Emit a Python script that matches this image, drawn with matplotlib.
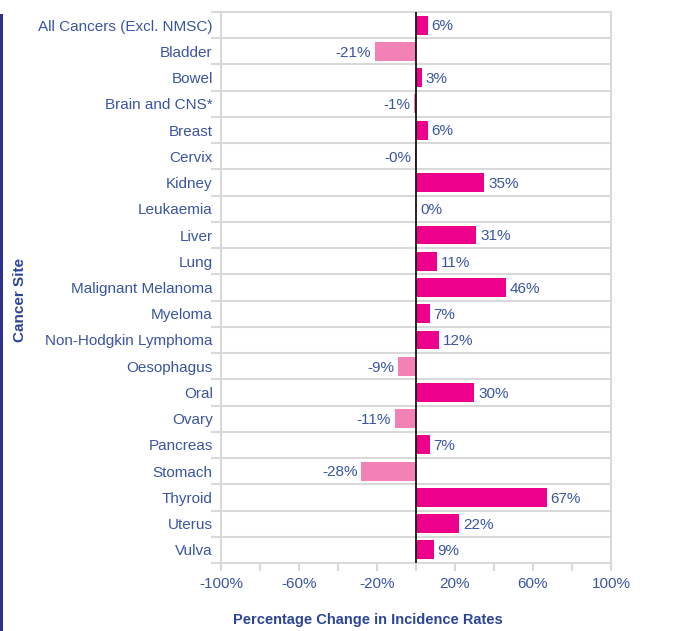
import matplotlib
matplotlib.use("Agg")
import matplotlib.pyplot as plt
from matplotlib.ticker import MultipleLocator, FixedLocator
import numpy as np

categories = ["All Cancers (Excl. NMSC)", "Bladder", "Bowel", "Brain and CNS*", "Breast",
              "Cervix", "Kidney", "Leukaemia", "Liver", "Lung", "Malignant Melanoma",
              "Myeloma", "Non-Hodgkin Lymphoma", "Oesophagus", "Oral", "Ovary",
              "Pancreas", "Stomach", "Thyroid", "Uterus", "Vulva"]
values = [6, -21, 3, -1, 6, -0.3, 35, 0, 31, 11, 46, 7, 12, -9, 30, -11, 7, -28, 67, 22, 9]
xticks = [-100, -60, -20, 20, 60, 100]

pos_color = "#ec008c"
neg_color = "#f282b6"
text_color = "#3a55a4"
title_color = "#2b4596"
grid_color = "#d9d9d9"

plt.rcParams['font.family'] = ['Liberation Sans', 'DejaVu Sans']

fig = plt.figure(figsize=(6.76, 6.31), dpi=100)
ax = fig.add_axes([221/676, 1-563/631, (611-221)/676, (563-12)/631])

n = len(categories)
y = np.arange(n)
colors = [pos_color if v >= 0 else neg_color for v in values]
ax.barh(y, values, height=0.72, color=colors, zorder=3)

ax.set_ylim(n - 0.5, -0.5)
ax.set_xlim(-100, 100)

# category separators
for b in np.arange(n - 1) + 0.5:
    ax.axhline(b, color=grid_color, lw=1.5, zorder=1)
ax.axvline(0, color="black", lw=1.2, zorder=4)

for yi, v in zip(y, values):
    lab = f"{v:.0f}%"
    if v >= 0:
        ax.text(v + 2, yi + 0.05, lab, ha="left", va="center", color=text_color, fontsize=11,
                zorder=5, bbox=dict(facecolor="white", edgecolor="none", pad=1.5))
    else:
        ax.text(v - 2, yi + 0.05, lab, ha="right", va="center", color=text_color, fontsize=11,
                zorder=5, bbox=dict(facecolor="white", edgecolor="none", pad=1.5))

ax.set_yticks(y)
ax.set_yticklabels(categories, color=text_color, fontsize=11)
ax.yaxis.set_minor_locator(FixedLocator(np.arange(-1, n) + 0.5))
ax.tick_params(axis="y", which="major", length=0, pad=6)
ax.tick_params(axis="y", which="minor", length=7, width=1.5, color=grid_color)

ax.set_xticks(xticks)
ax.set_xticklabels([f"{t}%" for t in xticks], color=text_color, fontsize=11)
ax.xaxis.set_minor_locator(MultipleLocator(20))
ax.tick_params(axis="x", which="both", length=6, width=1.5, color=grid_color, pad=4)

for s in ax.spines.values():
    s.set_color(grid_color)
    s.set_linewidth(1.5)

fig.text(368/676, 1-620/631, "Percentage Change in Incidence Rates", ha="center", va="center",
         color=title_color, fontsize=10.5, fontweight="bold")
fig.text(20/676, 1-300/631, "Cancer Site", ha="center", va="center", rotation=90,
         color=title_color, fontsize=11, fontweight="bold")

# left decorative stripe
fig.add_artist(plt.Rectangle((0, 0), 3/676, 1-14/631, transform=fig.transFigure,
                             color="#2e3192", lw=0))

fig.savefig("out.png", dpi=100)
